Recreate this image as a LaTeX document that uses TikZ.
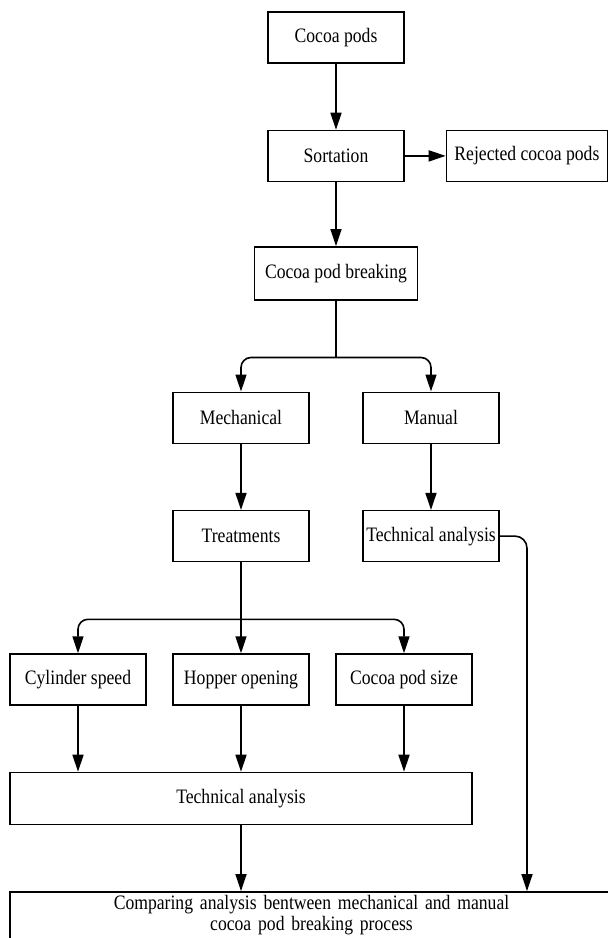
\documentclass[tikz,border=0pt]{standalone}
\usepackage{fontspec}
\setmainfont[FakeStretch=0.86]{Liberation Serif}
\usetikzlibrary{positioning,arrows.meta}

\begin{document}
\begin{tikzpicture}[
	x=1pt, y=1pt,
	box/.style={rectangle, draw=black, line width=1.4pt, fill=white,
	minimum width=136pt, minimum height=51pt, inner sep=2pt,
	font=\fontsize{20.5}{22}\selectfont},
	line/.style={line width=1.6pt},
	arr/.style={line width=1.6pt, -{Triangle[length=17pt,width=11pt]}}
	]
	\path[use as bounding box, clip] (0,0) rectangle (608,-938);
	
	\node[box] (pods) at (336,-37.5) {Cocoa pods};
	\node[box] (sort) [below=66pt of pods] {Sortation};
	\node[box, minimum width=161pt] (rej) [right=41pt of sort] {Rejected cocoa pods};
	\node[box, minimum width=163pt, minimum height=53pt] (brk) [below=64pt of sort] {Cocoa pod breaking};
	
	\node[box] (mech) [below=91pt of brk, xshift=-95pt] {Mechanical};
	\node[box] (man) [below=91pt of brk, xshift=95pt] {Manual};
	\node[box] (treat) [below=66pt of mech] {Treatments};
	\node[box] (techman) [below=66pt of man] {Technical analysis};
	
	\node[box] (hop) [below=91pt of treat] {Hopper opening};
	\node[box] (cyl) [below=91pt of treat, xshift=-163pt] {Cylinder speed};
	\node[box] (size) [below=91pt of treat, xshift=163pt] {Cocoa pod size};
	\node[box, minimum width=462pt, minimum height=52pt] (techmech) [below=66pt of hop] {Technical analysis};
	
	\node[box, align=center, text width=587pt, inner xsep=8pt, inner ysep=2pt,
	font=\fontsize{20.5}{21}\selectfont, text depth=30pt] (cmp) [below=66pt of techmech.south west, anchor=north west]
	{Comparing analysis bentween mechanical and manual\\ cocoa pod breaking process};
	
	\draw[arr] (pods) -- (sort);
	\draw[arr] (sort) -- (rej);
	\draw[arr] (sort) -- (brk);
	\draw[line] (brk.south) -- ++(0,-57) coordinate (split1);
	\draw[arr, rounded corners=10pt] (split1) -| (mech.north);
	\draw[arr, rounded corners=10pt] (split1) -| (man.north);
	\draw[arr] (mech) -- (treat);
	\draw[arr] (man) -- (techman);
	
	\draw[arr] (treat) -- (hop);
	\coordinate (split2) at ([yshift=-57pt]treat.south);
	\draw[arr, rounded corners=10pt] (split2) -| (cyl.north);
	\draw[arr, rounded corners=10pt] (split2) -| (size.north);
	\draw[arr] (cyl) -- (cyl |- techmech.north);
	\draw[arr] (hop) -- (techmech);
	\draw[arr] (size) -- (size |- techmech.north);
	
	\draw[arr] (techmech.south) -- (techmech.south |- cmp.north);
	\draw[arr, rounded corners=12pt] (techman.east) -| ([xshift=215.5pt]cmp.north);
\end{tikzpicture}
\end{document}
